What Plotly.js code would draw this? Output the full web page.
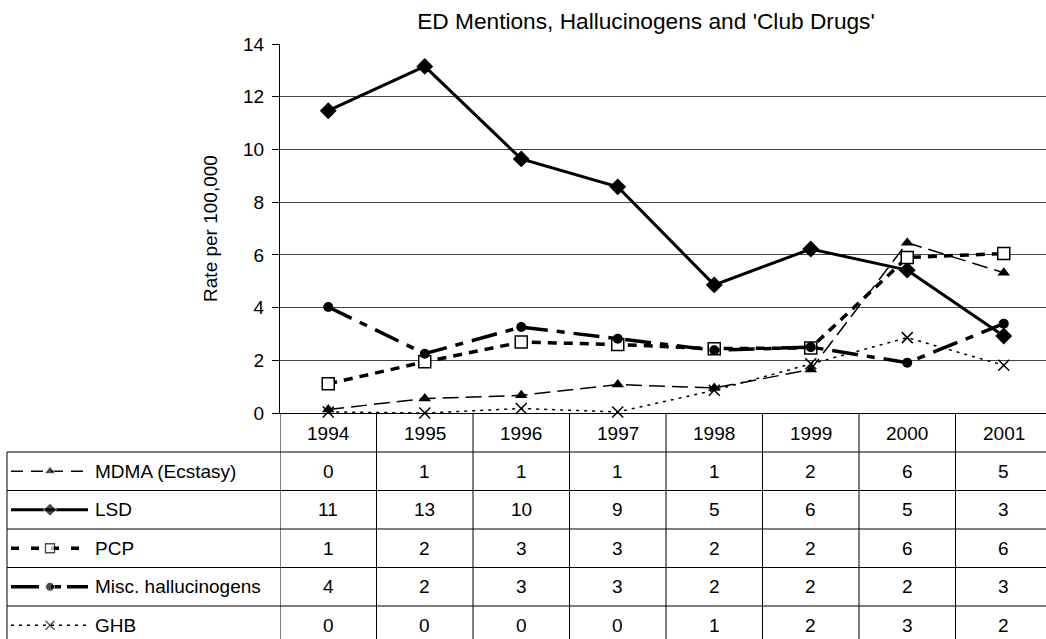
<!DOCTYPE html>
<html>
<head>
<meta charset="utf-8">
<script src="https://cdn.plot.ly/plotly-3.0.1.min.js"></script>
<style>
  html, body { margin: 0; padding: 0; overflow: hidden; background: #fff; }
  #chart { width: 1060px; height: 660px; }
</style>
</head>
<body>
<div id="chart"></div>
<script>
// ---- data ----
const years = ['1994', '1995', '1996', '1997', '1998', '1999', '2000', '2001'];
const seriesNames = ['MDMA (Ecstasy)', 'LSD', 'PCP', 'Misc. hallucinogens', 'GHB'];
const mdma = [0.13, 0.55, 0.67, 1.08, 0.95, 1.65, 6.46, 5.32];
const lsd  = [11.47, 13.15, 9.64, 8.58, 4.86, 6.22, 5.42, 2.92];
const pcp  = [1.11, 1.94, 2.69, 2.60, 2.44, 2.47, 5.90, 6.05];
const misc = [4.02, 2.25, 3.26, 2.82, 2.38, 2.50, 1.91, 3.39];
const ghb  = [0.04, 0.00, 0.17, 0.04, 0.86, 1.87, 2.86, 1.81];
// values printed in the data table
const mdmaTable = [0, 1, 1, 1, 1, 2, 6, 5];
const lsdTable  = [11, 13, 10, 9, 5, 6, 5, 3];
const pcpTable  = [1, 2, 3, 3, 2, 2, 6, 6];
const miscTable = [4, 2, 3, 3, 2, 2, 2, 3];
const ghbTable  = [0, 0, 0, 0, 1, 2, 3, 2];
const yTicks = [0, 2, 4, 6, 8, 10, 12, 14];

// ---- layout geometry (pixels) ----
const W = 1060, H = 660;
const plotL = 280, plotR = 1052, plotT = 44, plotB = 413;
const headerB = 452, rowH = 38.5, tableL = 7;
const FONT = 'Liberation Sans, Arial, sans-serif';
const px = x => x / W;
const py = y => 1 - y / H;

const styles = [
  {dash: '16px,7px', width: 1.5, marker: {symbol: 'triangle-up', size: 11, color: '#000'}},
  {dash: 'solid', width: 3, marker: {symbol: 'diamond', size: 13, color: '#000'}},
  {dash: '9px,7px', width: 3.5, marker: {symbol: 'square', size: 12, color: '#fff', line: {color: '#000', width: 1.5}}},
  {dash: '26px,9px,8px,9px', width: 3.5, marker: {symbol: 'circle', size: 10, color: '#000'}},
  {dash: '3px,5px', width: 1.5, marker: {symbol: 'x-thin', size: 11, color: '#000', line: {color: '#000', width: 1.5}}}
];
const keyStyles = [
  {dash: '12px,8px', width: 1.5, marker: {symbol: 'triangle-up', size: 10, color: '#000'}},
  {dash: 'solid', width: 3, marker: {symbol: 'diamond', size: 10, color: '#000'}},
  {dash: '8px,12px', width: 3.5, marker: {symbol: 'square', size: 9, color: '#fff', line: {color: '#000', width: 1.3}}},
  {dash: '28px,12px,10px,6px', width: 3.5, marker: {symbol: 'circle', size: 9, color: '#000'}},
  {dash: '3px,5px', width: 1.3, marker: {symbol: 'x-thin', size: 9, color: '#000', line: {color: '#000', width: 1.3}}}
];
const allSeries = [mdma, lsd, pcp, misc, ghb];
const allTables = [mdmaTable, lsdTable, pcpTable, miscTable, ghbTable];

const traces = [];
allSeries.forEach((vals, i) => {
  traces.push({
    type: 'scatter', mode: 'lines+markers', x: years, y: vals, name: seriesNames[i],
    line: {color: '#000', width: styles[i].width, dash: styles[i].dash},
    marker: styles[i].marker, cliponaxis: false, hoverinfo: 'skip', showlegend: false
  });
});
// legend keys inside the data table (overlay pixel axes)
seriesNames.forEach((n, i) => {
  const yc = headerB + rowH * (i + 0.5);
  const m = Object.assign({}, keyStyles[i].marker, {size: [0, keyStyles[i].marker.size, 0]});
  traces.push({
    type: 'scatter', mode: 'lines+markers', x: [11, 50, 88], y: [yc, yc, yc],
    xaxis: 'x2', yaxis: 'y2',
    line: {color: '#000', width: keyStyles[i].width, dash: keyStyles[i].dash},
    marker: m, cliponaxis: false, hoverinfo: 'skip', showlegend: false
  });
});

const shapes = [];
const lineStyle = {color: '#000', width: 1};
// vertical separators of the table (category boundaries)
for (let i = 0; i <= years.length; i++) {
  shapes.push({type: 'line', xref: 'x', yref: 'paper', x0: i - 0.5, x1: i - 0.5,
    y0: py(plotB), y1: 0, line: lineStyle});
}
// left border of the label column
shapes.push({type: 'line', xref: 'paper', yref: 'paper', x0: px(tableL), x1: px(tableL),
  y0: py(headerB), y1: 0, line: lineStyle});
// horizontal row lines
for (let r = 0; r <= seriesNames.length; r++) {
  const y = headerB + r * rowH;
  shapes.push({type: 'line', xref: 'paper', yref: 'paper', x0: px(tableL), x1: 1,
    y0: py(y), y1: py(y), line: lineStyle});
}

const annotations = [];
const cellFont = {family: FONT, size: 19, color: '#000'};
years.forEach((yr, i) => {
  annotations.push({xref: 'x', yref: 'paper', x: i, y: py((plotB + headerB) / 2 + 1),
    text: yr, showarrow: false, font: cellFont, xanchor: 'center', yanchor: 'middle'});
});
allTables.forEach((vals, r) => {
  const yc = headerB + rowH * (r + 0.5);
  vals.forEach((v, i) => {
    annotations.push({xref: 'x', yref: 'paper', x: i, y: py(yc),
      text: String(v), showarrow: false, font: cellFont, xanchor: 'center', yanchor: 'middle'});
  });
  annotations.push({xref: 'paper', yref: 'paper', x: px(93), y: py(yc),
    text: seriesNames[r], showarrow: false, font: cellFont, xanchor: 'left', yanchor: 'middle'});
});

const layout = {
  width: W, height: H,
  margin: {l: 0, r: 0, t: 0, b: 0},
  paper_bgcolor: '#fff', plot_bgcolor: 'rgba(0,0,0,0)',
  showlegend: false,
  title: {text: "ED Mentions, Hallucinogens and 'Club Drugs'", font: {family: FONT, size: 22.7, color: '#000'},
    x: px(646), xanchor: 'center', y: py(21), yanchor: 'middle', xref: 'paper', yref: 'paper'},
  xaxis: {
    type: 'category', domain: [px(plotL), px(plotR)], range: [-0.5, 7.5],
    showgrid: false, showline: true, linecolor: '#000', linewidth: 1,
    showticklabels: false, ticks: '', zeroline: false, fixedrange: true
  },
  yaxis: {
    domain: [py(plotB), py(plotT)], range: [0, 14], tickvals: yTicks,
    showgrid: true, gridcolor: '#444', gridwidth: 1,
    showline: true, linecolor: '#000', linewidth: 1,
    ticks: 'outside', ticklen: 7, tickcolor: '#000', ticklabelstandoff: 4,
    tickfont: {family: FONT, size: 19, color: '#000'}, zeroline: false, fixedrange: true,
    title: {text: 'Rate per 100,000', font: {family: FONT, size: 19, color: '#000'}, standoff: 20}
  },
  xaxis2: {domain: [0, 1], range: [0, W], visible: false, fixedrange: true, anchor: 'y2'},
  yaxis2: {domain: [0, 1], range: [H, 0], visible: false, fixedrange: true, anchor: 'x2'},
  shapes: shapes,
  annotations: annotations
};

Plotly.newPlot('chart', traces, layout, {staticPlot: true, displayModeBar: false});
</script>
</body>
</html>
